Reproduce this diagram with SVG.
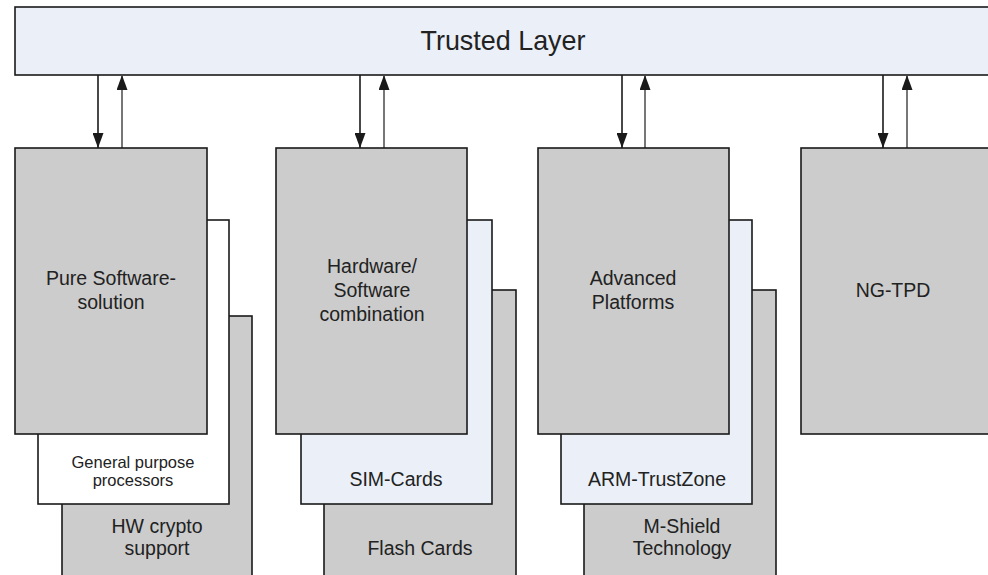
<svg xmlns="http://www.w3.org/2000/svg" width="988" height="575" viewBox="0 0 988 575">
  <style>
    .box { stroke: #1a1a1a; stroke-width: 1.6; }
    .gray { fill: #cccccc; }
    .blue { fill: #ebf0f8; }
    .white { fill: #ffffff; }
    text { font-family: "Liberation Sans", Arial, sans-serif; fill: #222222; text-anchor: middle; }
    .lbl { font-size: 19.5px; }
    .small { font-size: 16.5px; }
    .down { stroke: #1a1a1a; stroke-width: 1.6; fill: none; }
    .up { stroke: #555555; stroke-width: 1.6; fill: none; }
  </style>
  <defs>
    <marker id="head" viewBox="0 0 15 11" refX="15" refY="5.5" markerWidth="15" markerHeight="11" markerUnits="userSpaceOnUse" orient="auto">
      <path d="M0,0 L15,5.5 L0,11 Z" fill="#1a1a1a"/>
    </marker>
  </defs>
  <rect width="988" height="575" fill="#ffffff"/>

  <g id="trusted-layer">
    <rect class="box blue" x="15" y="7" width="985" height="68"/>
    <text x="503" y="50" font-size="28" textLength="165" lengthAdjust="spacingAndGlyphs">Trusted Layer</text>
  </g>

  <g id="connectors">
    <line class="down" x1="98" y1="75" x2="98" y2="148" marker-end="url(#head)"/>
    <line class="up" x1="122" y1="148" x2="122" y2="75" marker-end="url(#head)"/>
    <line class="down" x1="360" y1="75" x2="360" y2="148" marker-end="url(#head)"/>
    <line class="up" x1="384" y1="148" x2="384" y2="75" marker-end="url(#head)"/>
    <line class="down" x1="622" y1="75" x2="622" y2="148" marker-end="url(#head)"/>
    <line class="up" x1="645" y1="148" x2="645" y2="75" marker-end="url(#head)"/>
    <line class="down" x1="883" y1="75" x2="883" y2="148" marker-end="url(#head)"/>
    <line class="up" x1="907" y1="148" x2="907" y2="75" marker-end="url(#head)"/>
  </g>

  <!-- Column 1: software-only stack -->
  <g id="hw-crypto">
    <rect class="box gray" x="62" y="316" width="190" height="270"/>
    <text class="lbl" x="157" y="533">HW crypto</text>
    <text class="lbl" x="157" y="555">support</text>
  </g>
  <g id="general-purpose">
    <rect class="box white" x="38" y="220" width="191" height="284"/>
    <text class="small" x="133" y="468">General purpose</text>
    <text class="small" x="133" y="486">processors</text>
  </g>
  <g id="pure-software">
    <rect class="box gray" x="15" y="148" width="192" height="286"/>
    <text class="lbl" x="111" y="285">Pure Software-</text>
    <text class="lbl" x="111" y="309">solution</text>
  </g>

  <!-- Column 2: hardware/software stack -->
  <g id="flash-cards">
    <rect class="box gray" x="324" y="290" width="192" height="296"/>
    <text class="lbl" x="420" y="555">Flash Cards</text>
  </g>
  <g id="sim-cards">
    <rect class="box blue" x="301" y="220" width="191" height="284"/>
    <text class="lbl" x="396" y="486">SIM-Cards</text>
  </g>
  <g id="hw-sw-combination">
    <rect class="box gray" x="276" y="148" width="191" height="286"/>
    <text class="lbl" x="372" y="273">Hardware/</text>
    <text class="lbl" x="372" y="297">Software</text>
    <text class="lbl" x="372" y="321">combination</text>
  </g>

  <!-- Column 3: advanced platforms stack -->
  <g id="m-shield">
    <rect class="box gray" x="584" y="290" width="192" height="296"/>
    <text class="lbl" x="682" y="533">M-Shield</text>
    <text class="lbl" x="682" y="555">Technology</text>
  </g>
  <g id="arm-trustzone">
    <rect class="box blue" x="561" y="220" width="191" height="284"/>
    <text class="lbl" x="657" y="486">ARM-TrustZone</text>
  </g>
  <g id="advanced-platforms">
    <rect class="box gray" x="538" y="148" width="191" height="286"/>
    <text class="lbl" x="633" y="285">Advanced</text>
    <text class="lbl" x="633" y="309">Platforms</text>
  </g>

  <!-- Column 4 -->
  <g id="ng-tpd">
    <rect class="box gray" x="801" y="148" width="195" height="286"/>
    <text class="lbl" x="893" y="297">NG-TPD</text>
  </g>
</svg>
